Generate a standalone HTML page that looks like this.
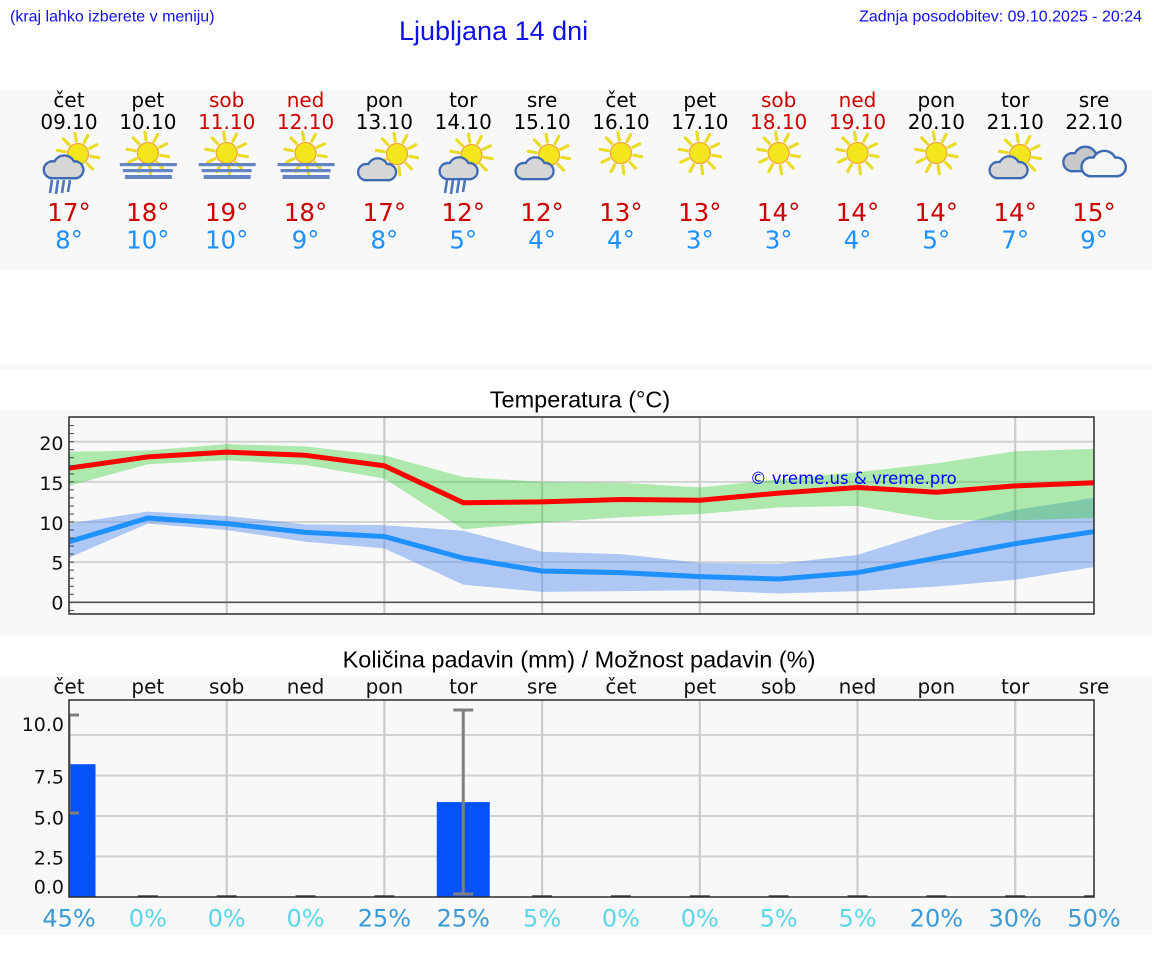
<!DOCTYPE html>
<html><head><meta charset="utf-8"><style>
html,body{margin:0;padding:0;background:#fff;}
body{width:1152px;height:975px;overflow:hidden;}
svg{display:block;}
.dv{font-family:"DejaVu Sans","Liberation Sans",sans-serif;}
.ls{font-family:"Liberation Sans",Arial,sans-serif;}
</style></head><body>
<svg width="1152" height="975" viewBox="0 0 1152 975" xmlns="http://www.w3.org/2000/svg">
<defs>
<g id="sun">
 <path d="M12.8 2.3L20.7 3.7M9 9.3L14.6 15.1M1.8 12.9L2.9 20.8M-6.1 11.5L-9.8 18.5M-11.7 5.7L-18.9 9.2M-12.8 -2.3L-20.7 -3.7M-9 -9.3L-14.6 -15.1M-1.8 -12.9L-2.9 -20.8M6.1 -11.5L9.8 -18.5M11.7 -5.7L18.9 -9.2" stroke="#ebdc2a" stroke-width="3.2" stroke-linecap="round" fill="none"/>
 <circle r="10.5" fill="#f4e61c" stroke="#f0a43a" stroke-width="1.2"/>
</g>
<g id="cs"><circle cx="-9" cy="-6" r="6"/><circle cx="1" cy="-9" r="8"/><circle cx="10" cy="-6" r="6"/><rect x="-9" y="-12" width="19" height="12"/></g>
<g id="cloud"><use href="#cs" fill="#3d6bb3" stroke="#3d6bb3" stroke-width="4"/><use href="#cs" fill="#d6d6d6"/></g>
<g id="cloudg"><use href="#cs" fill="#3d6bb3" stroke="#3d6bb3" stroke-width="3.6"/><use href="#cs" fill="#c8c8c8"/></g>
<g id="cloudw"><use href="#cs" fill="#3d6bb3" stroke="#3d6bb3" stroke-width="3.6"/><use href="#cs" fill="#f6f6f6"/></g>
<g id="fog">
 <use href="#sun" x="0" y="-2"/>
 <rect x="-28" y="8" width="57" height="3.2" fill="#6485c2"/>
 <rect x="-25" y="14" width="50" height="3.2" fill="#6485c2"/>
 <rect x="-23" y="20" width="47" height="4" fill="#6485c2"/>
</g>
<g id="rain" stroke="#4d76bd" stroke-width="2.6" fill="none">
 <path d="M-13 0L-15 13M-7 0L-9 14M-1 0L-3 13M5 0L3 12"/>
</g>
<clipPath id="tclip"><rect x="69" y="417" width="1025" height="197"/></clipPath>
<clipPath id="pclip"><rect x="69" y="700" width="1025" height="197"/></clipPath>
</defs>

<!-- header -->
<text class="ls" x="10" y="21.5" font-size="16" fill="#1010e8">(kraj lahko izberete v meniju)</text>
<text class="ls" x="399" y="40" font-size="27" fill="#1010e8">Ljubljana 14 dni</text>
<text class="ls" x="1142" y="21.5" font-size="16" fill="#1010e8" text-anchor="end">Zadnja posodobitev: 09.10.2025 - 20:24</text>

<!-- panels -->
<rect x="0" y="90" width="1152" height="180" fill="#f8f8f8"/>
<rect x="0" y="365" width="1152" height="5" fill="#f8f8f8"/>
<rect x="0" y="410" width="1152" height="225" fill="#f8f8f8"/>
<rect x="0" y="675" width="1152" height="260" fill="#f8f8f8"/>

<!-- forecast row -->
<g class="dv" font-size="20" text-anchor="middle">
<text x="69" y="107">čet</text><text x="147.85" y="107">pet</text><text x="226.7" y="107" fill="#cc0000">sob</text><text x="305.55" y="107" fill="#cc0000">ned</text><text x="384.4" y="107">pon</text><text x="463.25" y="107">tor</text><text x="542.1" y="107">sre</text><text x="620.95" y="107">čet</text><text x="699.8" y="107">pet</text><text x="778.65" y="107" fill="#cc0000">sob</text><text x="857.5" y="107" fill="#cc0000">ned</text><text x="936.35" y="107">pon</text><text x="1015.2" y="107">tor</text><text x="1094.05" y="107">sre</text>
<text x="69" y="129">09.10</text><text x="147.85" y="129">10.10</text><text x="226.7" y="129" fill="#cc0000">11.10</text><text x="305.55" y="129" fill="#cc0000">12.10</text><text x="384.4" y="129">13.10</text><text x="463.25" y="129">14.10</text><text x="542.1" y="129">15.10</text><text x="620.95" y="129">16.10</text><text x="699.8" y="129">17.10</text><text x="778.65" y="129" fill="#cc0000">18.10</text><text x="857.5" y="129" fill="#cc0000">19.10</text><text x="936.35" y="129">20.10</text><text x="1015.2" y="129">21.10</text><text x="1094.05" y="129">22.10</text>
</g>
<g class="dv" font-size="24.5" text-anchor="middle" fill="#cc0000">
<text x="69" y="221">17°</text><text x="147.85" y="221">18°</text><text x="226.7" y="221">19°</text><text x="305.55" y="221">18°</text><text x="384.4" y="221">17°</text><text x="463.25" y="221">12°</text><text x="542.1" y="221">12°</text><text x="620.95" y="221">13°</text><text x="699.8" y="221">13°</text><text x="778.65" y="221">14°</text><text x="857.5" y="221">14°</text><text x="936.35" y="221">14°</text><text x="1015.2" y="221">14°</text><text x="1094.05" y="221">15°</text>
</g>
<g class="dv" font-size="24.5" text-anchor="middle" fill="#1e90ff">
<text x="69" y="248.5">8°</text><text x="147.85" y="248.5">10°</text><text x="226.7" y="248.5">10°</text><text x="305.55" y="248.5">9°</text><text x="384.4" y="248.5">8°</text><text x="463.25" y="248.5">5°</text><text x="542.1" y="248.5">4°</text><text x="620.95" y="248.5">4°</text><text x="699.8" y="248.5">3°</text><text x="778.65" y="248.5">3°</text><text x="857.5" y="248.5">4°</text><text x="936.35" y="248.5">5°</text><text x="1015.2" y="248.5">7°</text><text x="1094.05" y="248.5">9°</text>
</g>

<!-- icons -->
<use href="#sun" transform="translate(78,154)"/>
<use href="#cloud" transform="translate(63,177) scale(1.2)"/>
<use href="#rain" transform="translate(65,180)"/>
<use href="#fog" transform="translate(147.85,155)"/>
<use href="#fog" transform="translate(226.7,155)"/>
<use href="#fog" transform="translate(305.55,155)"/>
<use href="#sun" transform="translate(397,154)"/>
<use href="#cloud" transform="translate(376.5,179) scale(1.15)"/>
<use href="#sun" transform="translate(471.5,155)"/>
<use href="#cloud" transform="translate(458,178) scale(1.15)"/>
<use href="#rain" transform="translate(460,180)"/>
<use href="#sun" transform="translate(549,155)"/>
<use href="#cloud" transform="translate(534,178) scale(1.15)"/>
<use href="#sun" transform="translate(620.95,153)"/>
<use href="#sun" transform="translate(699.8,153)"/>
<use href="#sun" transform="translate(778.65,153)"/>
<use href="#sun" transform="translate(857.5,153)"/>
<use href="#sun" transform="translate(936.35,153)"/>
<use href="#sun" transform="translate(1020,155)"/>
<use href="#cloud" transform="translate(1008,177) scale(1.15)"/>
<use href="#cloudg" transform="translate(1084,170) scale(1.3)"/>
<use href="#cloudw" transform="translate(1103,175) scale(1.35)"/>

<!-- Temperature chart -->
<text class="ls" x="580" y="407.5" font-size="23.5" text-anchor="middle" fill="#000">Temperatura (°C)</text>
<rect x="69" y="417" width="1025" height="197" fill="#f8f8f8"/>
<g stroke="#d2d2d2" stroke-width="2">
<path d="M69 441.7H1094M69 481.85H1094M69 522H1094M69 562.15H1094"/>
</g>
<g stroke="#cbcbcb" stroke-width="2.2">
<path d="M226.7 417V614M384.4 417V614M542.1 417V614M699.8 417V614M857.5 417V614M1015.2 417V614"/>
</g>
<path d="M69 602.3H1094" stroke="#555" stroke-width="1.6"/>
<g clip-path="url(#tclip)">
<polygon fill="rgb(100,149,237)" fill-opacity="0.5" points="69,523.6 147.85,511.6 226.7,516.0 305.55,524.4 384.4,525.2 463.25,530.8 542.1,551.7 620.95,554.1 699.8,562.9 778.65,563.8 857.5,554.9 936.35,530.0 1015.2,510.0 1094.05,497.9 1094.05,567.0 1015.2,579.8 936.35,586.6 857.5,591.1 778.65,593.5 699.8,590.3 620.95,591.1 542.1,591.9 463.25,584.6 384.4,548.5 305.55,541.7 226.7,530.0 147.85,523.6 69,557.7"/>
<polygon fill="rgb(50,205,50)" fill-opacity="0.38" points="69,451.7 147.85,450.5 226.7,444.1 305.55,446.5 384.4,455.4 463.25,477.0 542.1,481.9 620.95,482.7 699.8,487.5 778.65,479.4 857.5,472.2 936.35,463.4 1015.2,451.3 1094.05,448.9 1094.05,518.0 1015.2,520.4 936.35,520.0 857.5,505.9 778.65,507.5 699.8,514.0 620.95,517.2 542.1,522.8 463.25,529.2 384.4,478.6 305.55,465.0 226.7,460.2 147.85,464.2 69,485.9"/>
<polyline fill="none" stroke="#1e90ff" stroke-width="5" stroke-linejoin="round" points="69,541.7 147.85,518.0 226.7,523.6 305.55,532.4 384.4,536.5 463.25,558.1 542.1,571.0 620.95,572.6 699.8,576.6 778.65,579.0 857.5,572.6 936.35,558.1 1015.2,543.7 1094.05,531.6"/>
<polyline fill="none" stroke="#ff0000" stroke-width="5" stroke-linejoin="round" points="69,468.2 147.85,456.9 226.7,452.1 305.55,455.3 384.4,465.8 463.25,502.7 542.1,501.9 620.95,499.5 699.8,500.3 778.65,493.1 857.5,487.5 936.35,492.3 1015.2,485.9 1094.05,482.7"/>
</g>
<text class="dv" x="750" y="484" font-size="16.5" fill="#0000ff">© vreme.us &amp; vreme.pro</text>
<path stroke="#444" stroke-width="1" d="M69 610.33h5M69 602.3h5M69 594.27h5M69 586.24h5M69 578.21h5M69 570.18h5M69 562.15h5M69 554.12h5M69 546.09h5M69 538.06h5M69 530.03h5M69 522h5M69 513.97h5M69 505.94h5M69 497.91h5M69 489.88h5M69 481.85h5M69 473.82h5M69 465.79h5M69 457.76h5M69 449.73h5M69 441.7h5M69 433.67h5M69 425.64h5"/>
<rect x="69" y="417" width="1025" height="197" fill="none" stroke="#2a2a2a" stroke-width="1.5"/>
<g class="dv" font-size="19" text-anchor="end" fill="#111">
<text x="63.5" y="450">20</text><text x="63.5" y="490">15</text><text x="63.5" y="530">10</text><text x="63.5" y="569.5">5</text><text x="63.5" y="609.5">0</text>
</g>

<!-- Precip chart -->
<text class="ls" x="579" y="667.5" font-size="23.5" text-anchor="middle" fill="#000">Količina padavin (mm) / Možnost padavin (%)</text>
<g class="dv" font-size="20" text-anchor="middle" fill="#111">
<text x="69" y="693.5">čet</text><text x="147.85" y="693.5">pet</text><text x="226.7" y="693.5">sob</text><text x="305.55" y="693.5">ned</text><text x="384.4" y="693.5">pon</text><text x="463.25" y="693.5">tor</text><text x="542.1" y="693.5">sre</text><text x="620.95" y="693.5">čet</text><text x="699.8" y="693.5">pet</text><text x="778.65" y="693.5">sob</text><text x="857.5" y="693.5">ned</text><text x="936.35" y="693.5">pon</text><text x="1015.2" y="693.5">tor</text><text x="1094.05" y="693.5">sre</text>
</g>
<rect x="69" y="700" width="1025" height="197" fill="#f8f8f8"/>
<g stroke="#d2d2d2" stroke-width="2">
<path d="M69 735H1094M69 775.5H1094M69 816H1094M69 856.5H1094"/>
</g>
<g stroke="#cbcbcb" stroke-width="2.2">
<path d="M226.7 700V897M384.4 700V897M542.1 700V897M699.8 700V897M857.5 700V897M1015.2 700V897"/>
</g>
<g clip-path="url(#pclip)">
<rect x="42.5" y="764.2" width="53" height="133" fill="#0352fb"/>
<rect x="436.75" y="802.1" width="53" height="95" fill="#0352fb"/>
<g stroke="#808080" stroke-width="3" fill="none">
<path d="M69 715V813M59 715H79M59 813H79"/>
<path d="M463.25 710V894M453.25 710H473.25M453.25 894H473.25"/>
</g>
<g stroke="#454545" stroke-width="2.5">
<path d="M137.85 896.5h20M216.7 896.5h20M295.55 896.5h20M374.4 896.5h20M532.1 896.5h20M610.95 896.5h20M689.8 896.5h20M768.65 896.5h20M847.5 896.5h20M926.35 896.5h20M1005.2 896.5h20M1084.05 896.5h20"/>
</g>
</g>
<rect x="69" y="700" width="1025" height="197" fill="none" stroke="#2a2a2a" stroke-width="1.5"/>
<g class="dv" font-size="19" text-anchor="end" fill="#111">
<text x="64" y="731">10.0</text><text x="64" y="783.3">7.5</text><text x="64" y="824.3">5.0</text><text x="64" y="864.3">2.5</text><text x="64" y="893.3">0.0</text>
</g>
<g class="dv" font-size="24" text-anchor="middle">
<text x="69" y="926.5" fill="#3a9ad6">45%</text><text x="147.85" y="926.5" fill="#5ad6e8">0%</text><text x="226.7" y="926.5" fill="#5ad6e8">0%</text><text x="305.55" y="926.5" fill="#5ad6e8">0%</text><text x="384.4" y="926.5" fill="#3a9ad6">25%</text><text x="463.25" y="926.5" fill="#3a9ad6">25%</text><text x="542.1" y="926.5" fill="#5ad6e8">5%</text><text x="620.95" y="926.5" fill="#5ad6e8">0%</text><text x="699.8" y="926.5" fill="#5ad6e8">0%</text><text x="778.65" y="926.5" fill="#5ad6e8">5%</text><text x="857.5" y="926.5" fill="#5ad6e8">5%</text><text x="936.35" y="926.5" fill="#3a9ad6">20%</text><text x="1015.2" y="926.5" fill="#3a9ad6">30%</text><text x="1094.05" y="926.5" fill="#3a9ad6">50%</text>
</g>
</svg>
</body></html>
